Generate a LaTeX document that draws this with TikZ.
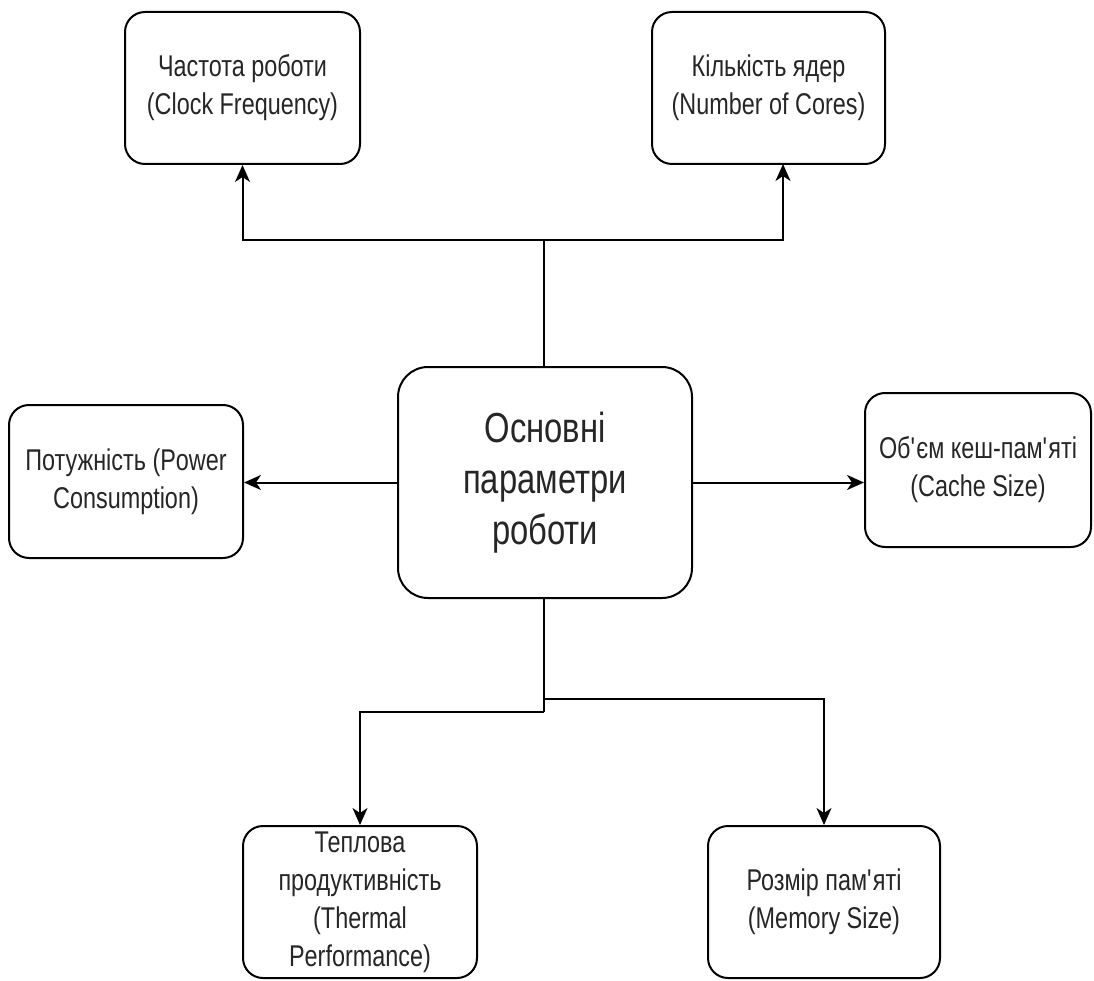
\documentclass[tikz,border=0pt]{standalone}
\usepackage{fontspec}
\setmainfont[FakeStretch=0.78]{Liberation Sans}
\usetikzlibrary{arrows.meta}
\newcommand{\apos}{\textquotesingle}
\begin{document}
\begin{tikzpicture}[x=1pt,y=-1pt,
  box/.style={draw=black, line width=2pt, rounded corners=20pt, fill=white,
    inner sep=0pt, align=center, text=black!85,
    font=\fontsize{30}{38}\selectfont},
  bigbox/.style={box, rounded corners=30pt, font=\fontsize{42}{51}\selectfont},
  arr/.style={line width=2pt, -{Stealth[length=17pt,width=15pt,inset=5pt]}},
  link/.style={line width=2pt}]
\useasboundingbox (0,0) rectangle (1094,981);

% central block
\node[bigbox, minimum width=294pt, minimum height=231pt] (C) at (545,482.5)
  {Основні\\параметри\\роботи};

% parameter blocks
\node[box, minimum width=235pt, minimum height=152pt] (TL) at (242.5,88)
  {Частота роботи\\(Clock Frequency)};
\node[box, minimum width=233pt, minimum height=152pt] (TR) at (768.5,88)
  {Кількість ядер\\(Number of Cores)};
\node[box, minimum width=234pt, minimum height=153pt] (L) at (126,481.5)
  {Потужність (Power\\Consumption)};
\node[box, minimum width=226pt, minimum height=154pt] (R) at (978,470)
  {Об\apos єм кеш-пам\apos яті\\(Cache Size)};
\node[box, minimum width=234pt, minimum height=152pt] (BL) at (360,902)
  {Теплова\\продуктивність\\(Thermal\\Performance)};
\node[box, minimum width=232pt, minimum height=152pt] (BR) at (824,902)
  {Розмір пам\apos яті\\(Memory Size)};

% junction points of the branching connectors
\coordinate (topj) at (544,240);
\coordinate (botR) at (544,699);
\coordinate (botL) at (544,712);
\coordinate (trin) at (783,164);

% upper branches
\draw[link] (C.north -| topj) -- (topj);
\draw[arr] (topj) -| (TL.south);
\draw[arr] (topj) -| (trin);

% side arrows
\draw[arr] (C.west) -- (C.west -| L.east);
\draw[arr] (C.east) -- (C.east -| R.west);

% lower branches
\draw[link] (C.south -| botL) -- (botL);
\draw[arr] (botL) -| (BL.north);
\draw[arr] (botR) -| (BR.north);
\end{tikzpicture}
\end{document}
